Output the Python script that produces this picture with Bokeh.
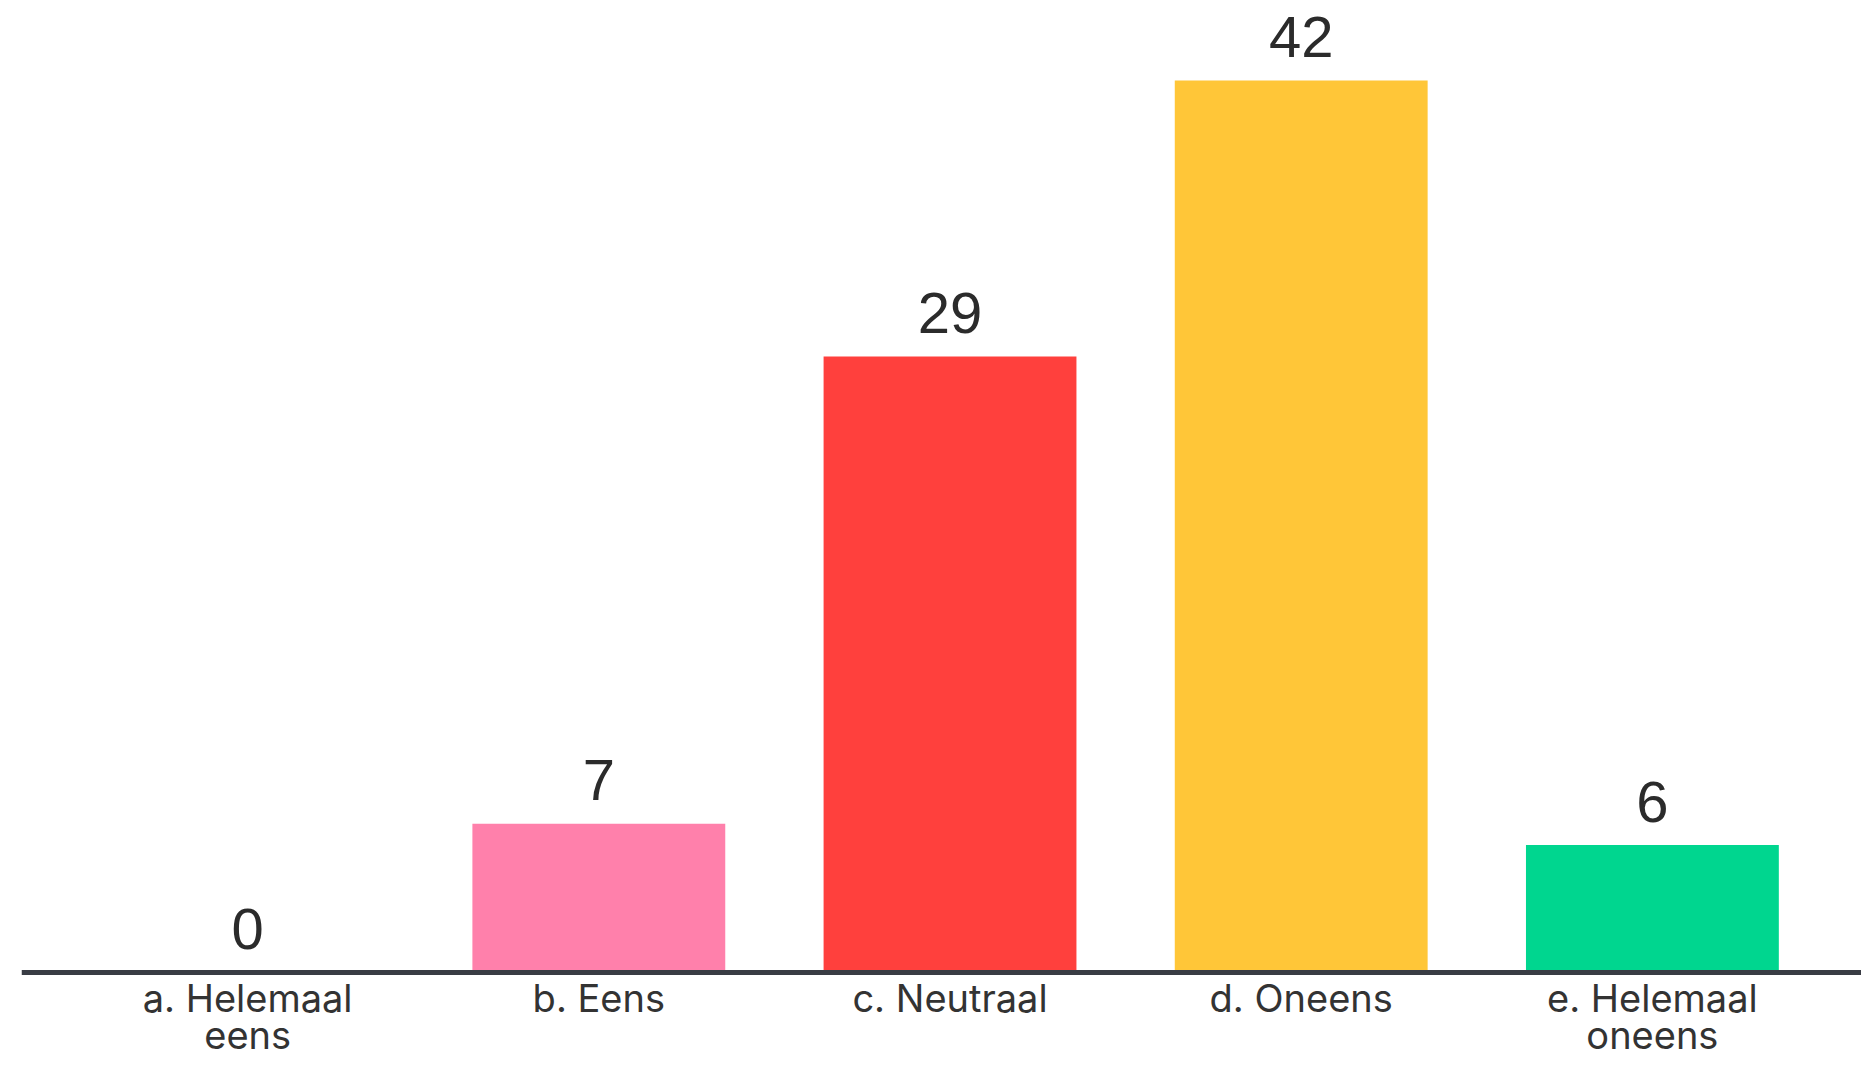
from bokeh.plotting import figure
from bokeh.models import ColumnDataSource, Range1d, Span
from bokeh.core.properties import value
from bokeh.embed import file_html
from bokeh.resources import INLINE

categories = ["a. Helemaal\neens", "b. Eens", "c. Neutraal", "d. Oneens", "e. Helemaal\noneens"]
counts = [0, 7, 29, 42, 6]
colors = ["#5690F6", "#FF80AB", "#FF403D", "#FFC638", "#00D68F"]

PX_PER_UNIT = 21.24          # vertical scale (pixels per count)
AXIS_PX = 972                # pixel row of the zero line
H = 1059
xs = list(range(len(categories)))
line1 = [c.split("\n")[0] for c in categories]
line2 = [c.split("\n")[1] if "\n" in c else "" for c in categories]

src = ColumnDataSource(dict(
    x=xs, count=counts, color=colors, label=[str(c) for c in counts],
    label_y=[c + 43.5 / PX_PER_UNIT for c in counts],
    line1=line1, line2=line2,
    y1=[-25 / PX_PER_UNIT] * len(xs), y2=[-62 / PX_PER_UNIT] * len(xs),
))

p = figure(width=1861, height=H, output_backend="svg", toolbar_location=None,
           x_range=Range1d(-0.6439, 4.5954),
           y_range=Range1d(-(H - AXIS_PX) / PX_PER_UNIT, AXIS_PX / PX_PER_UNIT),
           min_border_left=21, min_border_right=0, min_border_top=0, min_border_bottom=0)
p.outline_line_color = None
p.grid.visible = False
p.xaxis.visible = False
p.yaxis.visible = False
p.background_fill_color = "white"
p.border_fill_color = "white"

p.vbar(x="x", top="count", width=0.72, bottom=0, color="color", line_color=None, source=src)

# baseline (category axis line)
p.add_layout(Span(location=0, dimension="width", line_color="#393c44", line_width=5))

# value labels
p.text(x="x", y="label_y", text="label", source=src, text_align="center", text_baseline="alphabetic",
       text_font=value("Liberation Sans"), text_font_size="58px", text_color="#2b2b2b")

# category labels
for col, ycol in (("line1", "y1"), ("line2", "y2")):
    p.text(x="x", y=ycol, text=col, source=src, text_align="center", text_baseline="alphabetic",
           text_font=value("Inter"), text_font_size="38px", text_color="#333333")

open("out.html", "w").write(file_html(p, INLINE))
